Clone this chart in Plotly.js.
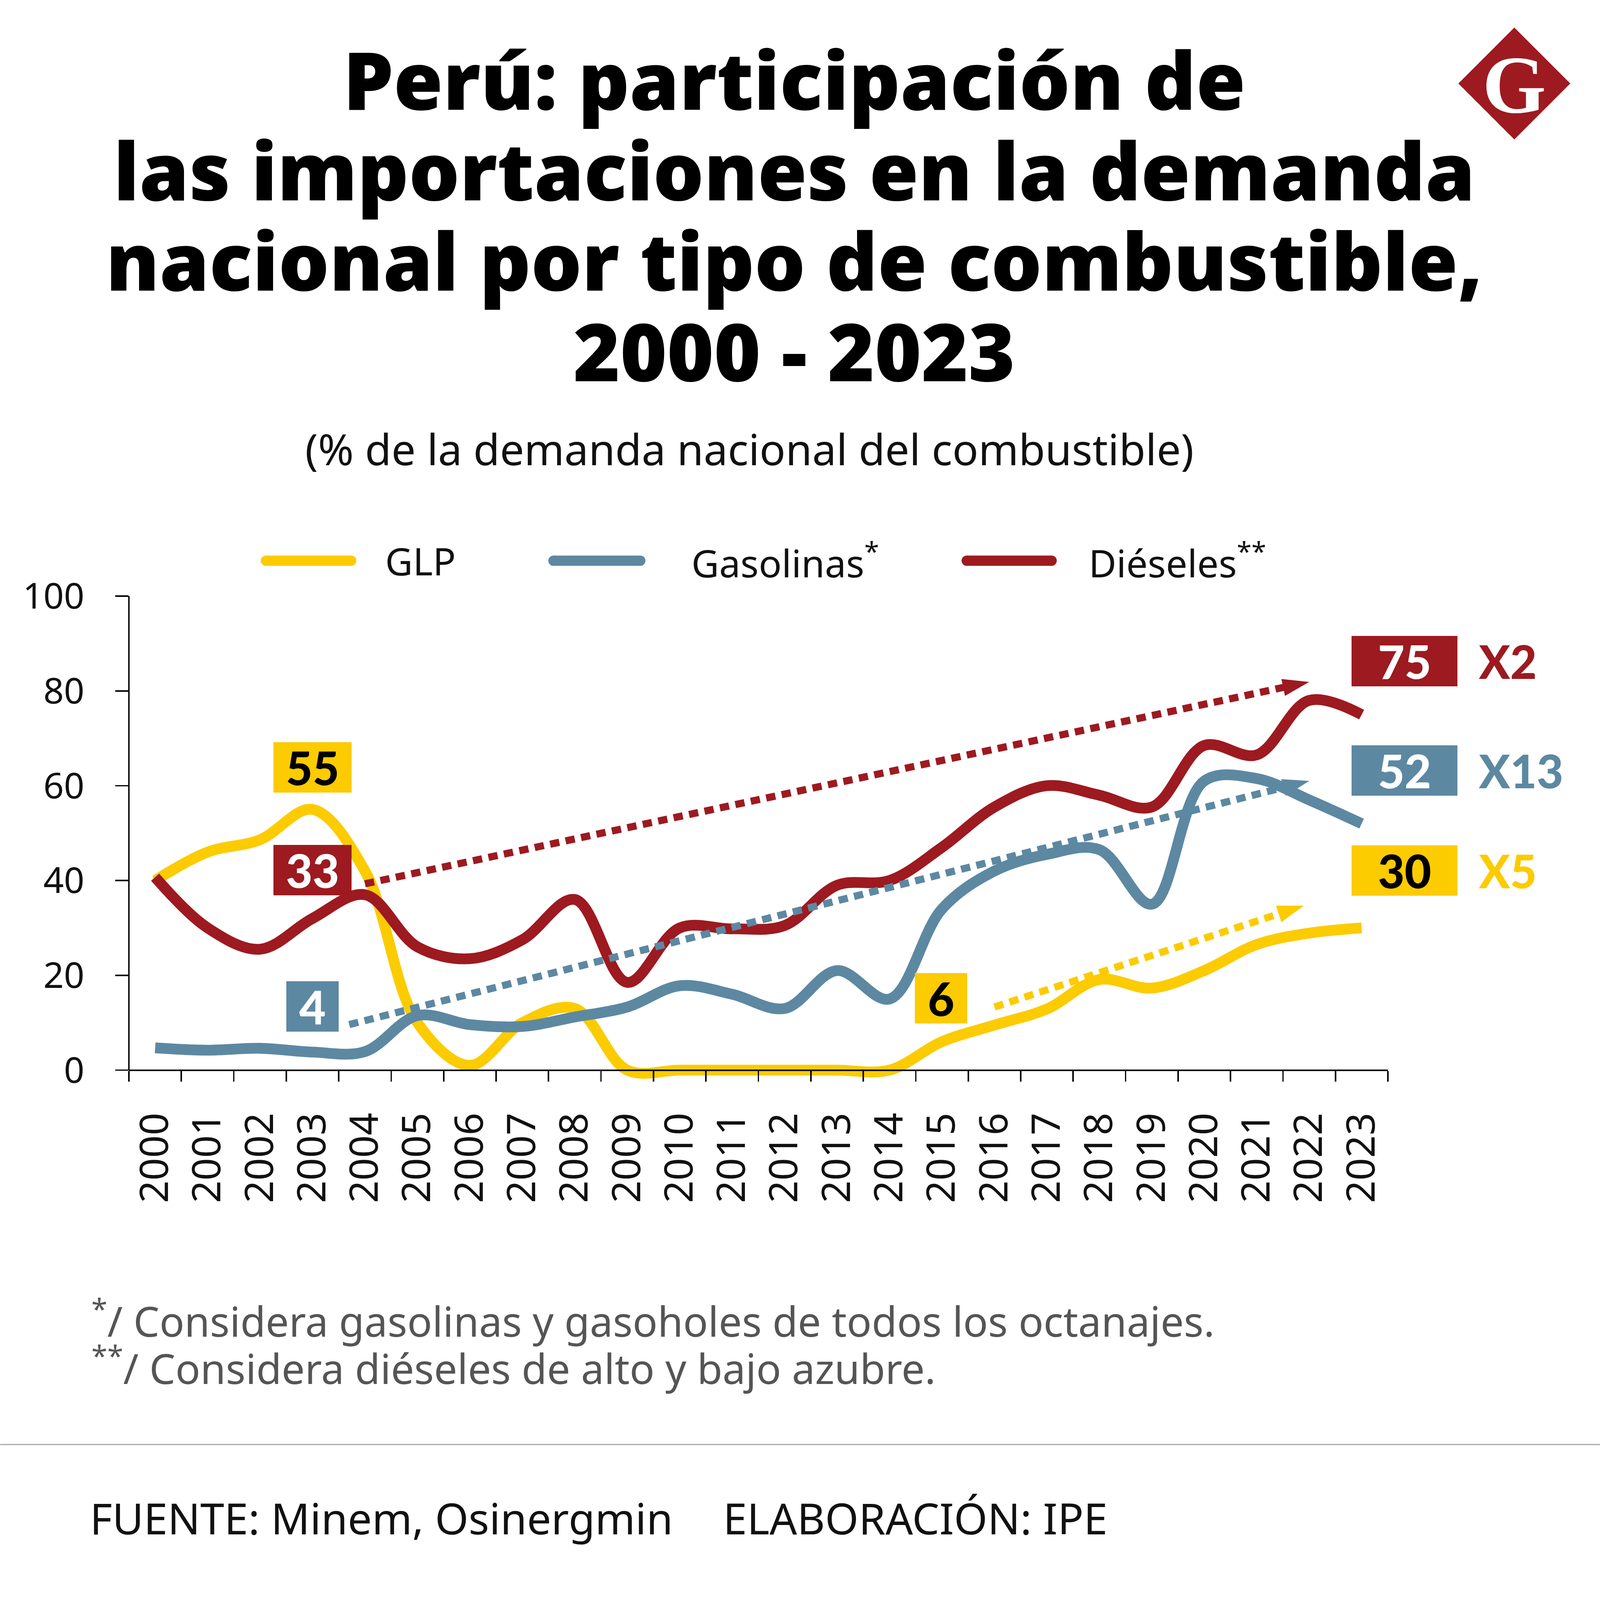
<!DOCTYPE html>
<html>
<head>
<meta charset="utf-8">
<script src="https://cdn.plot.ly/plotly-3.0.1.min.js"></script>
<style>
  html, body { margin: 0; padding: 0; background: #ffffff; overflow: hidden; }
</style>
</head>
<body>
<div id="chart"></div>
<script>
// ---------------- DATA ----------------
const years = [2000, 2001, 2002, 2003, 2004, 2005, 2006, 2007, 2008, 2009, 2010, 2011,
               2012, 2013, 2014, 2015, 2016, 2017, 2018, 2019, 2020, 2021, 2022, 2023];
const glp       = [40, 46, 48.6, 55, 42, 10, 1, 10, 13, 0, 0, 0,
                   0, 0, 0, 6, 9.5, 12.9, 19.1, 17.3, 21, 26.5, 28.9, 30];
const gasolinas = [4.7, 4.2, 4.6, 3.8, 3.9, 11.5, 9.6, 9.2, 11.2, 13.3, 17.8, 16,
                   13, 21, 15, 34, 42, 45.5, 46.5, 35, 61, 61.5, 57, 52];
const dieseles  = [40.7, 30, 25.5, 32, 37, 26, 23.5, 27.5, 36, 18.5, 30, 29.8,
                   30.5, 39, 40, 47, 55.5, 60, 58, 55.5, 68.5, 66.5, 78, 75];

const seriesNames = ['GLP', 'Gasolinas', 'Diéseles'];
const legendLabels = ['GLP', 'Gasolinas<sup>*</sup>', 'Diéseles<sup>**</sup>'];

// trend arrows (start -> tip)
const trendGlpX = [2016.0, 2021.9];  const trendGlpY = [13.3, 34.7];
const trendGasX = [2003.7, 2022.0];  const trendGasY = [9.6, 61.0];
const trendDieX = [2004.0, 2022.0];  const trendDieY = [39.3, 81.9];

// value boxes
const boxText  = ['55', '33', '4', '6', '75', '52', '30'];
const boxX     = [2003.0, 2003.0, 2003.0, 2014.98, 2023.82, 2023.82, 2023.82];
const boxY     = [63.9, 42.2, 13.4, 15.2, 86.3, 63.2, 42.1];
const boxSer   = [0, 2, 1, 0, 2, 1, 0];
const multText = ['X2', 'X13', 'X5'];
const multX    = 2025.22;
const multY    = [86.3, 63.2, 42.1];
const multSer  = [2, 1, 0];

const yTicks = [0, 20, 40, 60, 80, 100];
const xTickText = years.map(String);

const titleLines = ['Perú: participación de', 'las importaciones en la demanda',
                    'nacional por tipo de combustible,', '2000 - 2023'];
const subtitle = '(% de la demanda nacional del combustible)';
const notes = ['<sup>*</sup>/ Considera gasolinas y gasoholes de todos los octanajes.',
               '<sup>**</sup>/ Considera diéseles de alto y bajo azubre.'];
const sourceText = 'FUENTE: Minem, Osinergmin';
const creditText = 'ELABORACIÓN: IPE';

// ---------------- STYLE / GEOMETRY ----------------
const colors = ['#fccb00', '#5d88a2', '#9d1a20'];
const boxTextColor = ['#000000', '#ffffff', '#ffffff'];
const W = 4150, H = 4967;                 // design size
const L = 334, R = 3600, T = 1850, B = 3381;
const PW = R - L, PH = B - T;
const X_RANGE = [1999.5, 2023.5], Y_RANGE = [-4, 100];
// fit the design into the available window
const VW = window.innerWidth || W, VH = window.innerHeight || H;
const sx = Math.min(1, VW / W), sy = Math.min(1, VH / H);
const sf = Math.pow(sx, 0.6) * Math.pow(sy, 0.4);
const fs = v => v * sf;
const ri = v => Math.round(v);
const px = x => (x - L) / PW;
const py = y => (B - y) / PH;
const dx = v => (v - X_RANGE[0]) / (X_RANGE[1] - X_RANGE[0]);
const dy = v => (v - Y_RANGE[0]) / (Y_RANGE[1] - Y_RANGE[0]);
const TFONT = '"Open Sans", Lato, sans-serif';
const NFONT = 'Lato, "Noto Sans", sans-serif';
const FONT = '"Noto Sans", Lato, sans-serif';
// multi-line text block: line pitch (design px) fixed via base size, glyph size via span
const block = (lines, size) =>
  lines.map(s => `<span style="font-size:${fs(size).toFixed(1)}px">${s}</span>`).join('<br>');
const baseFor = pitch => pitch * sy / 1.3;

// ---------------- TRACES ----------------
const traces = [];
const serData = [glp, gasolinas, dieseles];
[0, 1, 2].forEach(i => {
  traces.push({
    type: 'scatter', mode: 'lines', x: years, y: serData[i], name: seriesNames[i],
    line: { color: colors[i], width: fs(30), shape: 'spline', smoothing: 1 },
    showlegend: false, hoverinfo: 'skip'
  });
});
const trends = [[trendGlpX, trendGlpY, 0], [trendGasX, trendGasY, 1], [trendDieX, trendDieY, 2]];
trends.forEach(t => {
  traces.push({
    type: 'scatter', mode: 'lines+markers', x: t[0], y: t[1],
    line: { color: colors[t[2]], width: fs(20), dash: `${fs(26).toFixed(1)}px,${fs(18).toFixed(1)}px` },
    marker: { symbol: 'arrow', size: [0, fs(78)], angleref: 'previous', color: colors[t[2]],
              opacity: 1, line: { width: 0 } },
    showlegend: false, hoverinfo: 'skip', cliponaxis: false
  });
});

// ---------------- ANNOTATIONS ----------------
const ann = [];
ann.push({
  xref: 'paper', yref: 'paper', x: px(2060), y: py(665), xanchor: 'center', yanchor: 'middle',
  text: block(titleLines, 223), showarrow: false, align: 'center',
  font: { family: TFONT, size: baseFor(281), color: '#000', weight: 800 }
});
ann.push({
  xref: 'paper', yref: 'paper', x: px(1944), y: py(1392), xanchor: 'center', yanchor: 'middle',
  text: subtitle, showarrow: false,
  font: { family: FONT, size: fs(120), color: '#111' }
});
// legend
const legLineX = [[676, 924], [1422, 1674], [2494, 2741]];
const legTextX = [998, 1792, 2823];
const legY = 1740;
const legW = 32;
legendLabels.forEach((s, i) => ann.push({
  xref: 'paper', yref: 'paper', x: px(legTextX[i]), y: py(legY), xanchor: 'left', yanchor: 'middle',
  text: s, showarrow: false, borderpad: 0, font: { family: FONT, size: fs(106), color: '#111' }
}));
// value boxes
boxText.forEach((s, i) => {
  const c = boxSer[i];
  const w = s.length === 1 ? 136 : (i >= 4 ? 275 : 203);
  ann.push({
    xref: 'paper', yref: 'paper', x: dx(boxX[i]), y: dy(boxY[i]), xanchor: 'center', yanchor: 'middle',
    text: s, showarrow: false, bgcolor: colors[c], borderpad: 0, borderwidth: 0,
    width: w * sx, height: 156 * sy, align: 'center', valign: 'middle',
    font: { family: NFONT, size: fs(128), color: boxTextColor[c], weight: 900 }
  });
});
multText.forEach((s, i) => ann.push({
  xref: 'paper', yref: 'paper', x: dx(multX), y: dy(multY[i]), xanchor: 'left', yanchor: 'middle',
  text: s, showarrow: false, borderpad: 0,
  font: { family: NFONT, size: fs(128), color: colors[multSer[i]], weight: 900 }
}));
// footnotes
ann.push({
  xref: 'paper', yref: 'paper', x: px(236), y: py(4168), xanchor: 'left', yanchor: 'middle',
  text: block(notes, 115), showarrow: false, borderpad: 0, align: 'left',
  font: { family: FONT, size: baseFor(146), color: '#555' }
});
ann.push({
  xref: 'paper', yref: 'paper', x: px(232), y: py(4712), xanchor: 'left', yanchor: 'middle',
  text: sourceText, showarrow: false, borderpad: 0,
  font: { family: FONT, size: fs(120), color: '#111' }
});
ann.push({
  xref: 'paper', yref: 'paper', x: px(1874), y: py(4712), xanchor: 'left', yanchor: 'middle',
  text: creditText, showarrow: false, borderpad: 0,
  font: { family: FONT, size: fs(120), color: '#111' }
});
// logo letter
ann.push({
  xref: 'paper', yref: 'paper', x: px(3928), y: py(262), xanchor: 'center', yanchor: 'middle',
  text: 'G', showarrow: false, borderpad: 0,
  font: { family: '"Liberation Serif", "DejaVu Serif", serif', size: fs(228), color: '#fff', weight: 700 }
});

// ---------------- SHAPES ----------------
const shapes = [];
shapes.push({ type: 'line', xref: 'paper', yref: 'y', x0: 0, x1: 0, y0: 0, y1: 100,
  line: { color: '#000', width: fs(4) } });
// legend samples with rounded ends
const capR = legW / 2;                       // design px (vertical)
const capRx = capR * sy / sx;                // same on-screen radius, horizontal design px
legLineX.forEach((xx, i) => {
  const a = xx[0] + capRx, b = xx[1] - capRx;
  shapes.push({
    type: 'line', xref: 'paper', yref: 'paper', x0: px(a), x1: px(b), y0: py(legY), y1: py(legY),
    line: { color: colors[i], width: legW * sy }
  });
  [a, b].forEach(c => shapes.push({
    type: 'circle', xref: 'paper', yref: 'paper',
    x0: px(c - capRx), x1: px(c + capRx), y0: py(legY + capR), y1: py(legY - capR),
    fillcolor: colors[i], line: { width: 0 }
  }));
});
shapes.push({ type: 'line', xref: 'paper', yref: 'paper', x0: px(0), x1: px(W), y0: py(4485), y1: py(4485),
  line: { color: '#a8a8a8', width: 3 } });
// logo diamond (kept square on screen)
const cx = 3928, cy = 258, hd = 156 * sf;
const hx = hd / sx, hy = hd / sy;
shapes.push({ type: 'path', xref: 'paper', yref: 'paper',
  path: `M${px(cx)},${py(cy - hy)} L${px(cx + hx)},${py(cy)} L${px(cx)},${py(cy + hy)} L${px(cx - hx)},${py(cy)} Z`,
  fillcolor: '#9d1a20', line: { width: 0 } });

// ---------------- LAYOUT ----------------
const layout = {
  width: Math.floor(W * sx), height: Math.floor(H * sy),
  margin: { l: L * sx, r: (W - R) * sx, t: T * sy, b: (H - B) * sy, pad: 0, autoexpand: false },
  paper_bgcolor: '#ffffff', plot_bgcolor: '#ffffff',
  font: { family: FONT, color: '#111' },
  showlegend: false,
  xaxis: {
    type: 'linear', range: X_RANGE, anchor: 'free', position: 4 / 104,
    showgrid: false, zeroline: false,
    showline: true, linecolor: '#000', linewidth: fs(4),
    tickmode: 'array', tickvals: years, ticktext: xTickText,
    ticks: 'outside', ticklen: 0, tickcolor: 'rgba(0,0,0,0)',
    tickangle: -90, ticklabelstandoff: ri(66 * sy / 0.8247),
    tickfont: { family: FONT, size: fs(110), color: '#111' },
    minor: { tickmode: 'linear', tick0: 1999.5, dtick: 1, ticks: 'outside', ticklen: 32 * sy,
             tickwidth: fs(4), tickcolor: '#000', showgrid: false }
  },
  yaxis: {
    range: Y_RANGE, showgrid: false, zeroline: false, showline: false,
    tickmode: 'array', tickvals: yTicks, ticktext: yTicks.map(String),
    ticks: 'outside', ticklen: 34 * sx, tickwidth: fs(4), tickcolor: '#000',
    ticklabelstandoff: ri(61 * sx / 0.987),
    tickfont: { family: FONT, size: fs(100), color: '#111' }
  },
  annotations: ann,
  shapes: shapes
};

const el = document.getElementById('chart');
el.style.width = layout.width + 'px';
el.style.height = layout.height + 'px';
Plotly.newPlot(el, traces, layout, { staticPlot: true });
</script>
</body>
</html>
